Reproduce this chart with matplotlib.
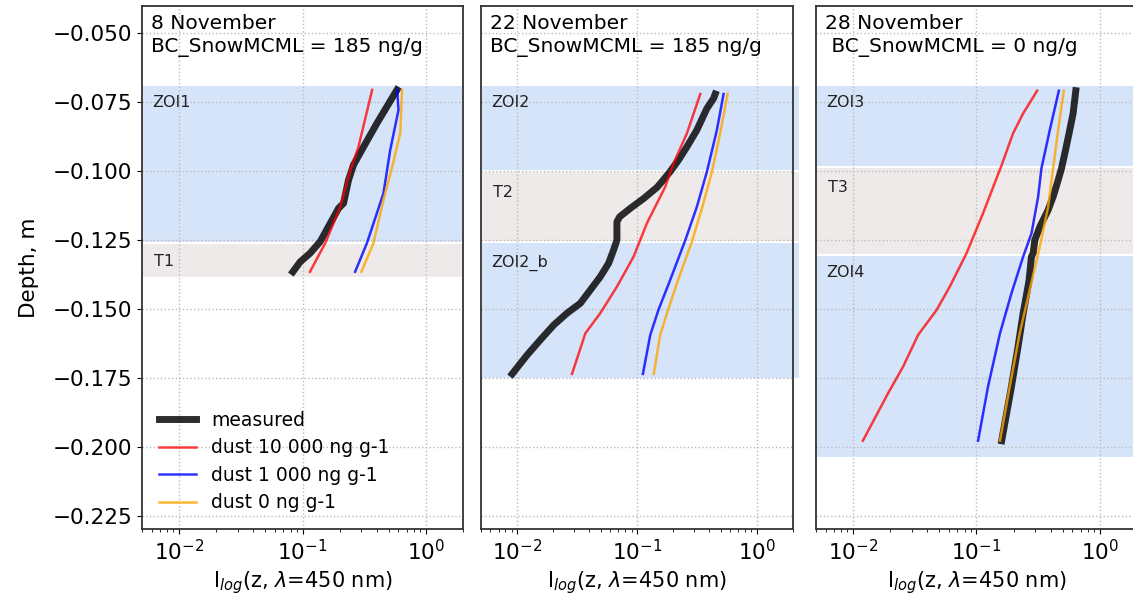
import matplotlib
matplotlib.use("Agg")
import matplotlib.pyplot as plt

# ---- data (intensity, depth in m) ----
titles = ["8 November\nBC_SnowMCML = 185 ng/g",
          "22 November\nBC_SnowMCML = 185 ng/g",
          "28 November\n BC_SnowMCML = 0 ng/g"]

# panel 1
p1_meas_x = [0.583, 0.401, 0.313, 0.259, 0.236, 0.215, 0.196, 0.168, 0.139, 0.115, 0.0958, 0.0836]
p1_meas_z = [-0.0705, -0.0826, -0.0911, -0.0977, -0.1032, -0.1116, -0.1134, -0.1188, -0.1255, -0.1297, -0.1328, -0.1364]
p1_red_x = [0.367, 0.284, 0.244, 0.202, 0.153, 0.115]
p1_red_z = [-0.0705, -0.0912, -0.0996, -0.113, -0.126, -0.1364]
p1_blue_x = [0.586, 0.600, 0.514, 0.453, 0.333, 0.267]
p1_blue_z = [-0.0705, -0.0778, -0.0923, -0.108, -0.126, -0.1364]
p1_or_x = [0.641, 0.620, 0.533, 0.453, 0.376, 0.300]
p1_or_z = [-0.0705, -0.0862, -0.0984, -0.1104, -0.126, -0.1364]

# panel 2
p2_meas_x = [0.449, 0.435, 0.383, 0.316, 0.261, 0.222, 0.189, 0.161, 0.147, 0.114, 0.088, 0.0716,
             0.068, 0.068, 0.0638, 0.058, 0.0494, 0.0408, 0.0337, 0.0261, 0.0202, 0.0156, 0.0121, 0.0091]
p2_meas_z = [-0.0720, -0.0736, -0.0772, -0.0850, -0.0911, -0.0959, -0.1001, -0.1038, -0.1058, -0.1098,
             -0.1134, -0.1165, -0.1183, -0.1249, -0.1285, -0.1333, -0.1382, -0.1430, -0.1478, -0.1514,
             -0.1557, -0.1611, -0.1666, -0.1734]
p2_red_x = [0.337, 0.261, 0.202, 0.172, 0.121, 0.0937, 0.068, 0.0494, 0.0371, 0.0287]
p2_red_z = [-0.0720, -0.0862, -0.0971, -0.1056, -0.1188, -0.1309, -0.1418, -0.1514, -0.1587, -0.1734]
p2_blue_x = [0.527, 0.464, 0.383, 0.316, 0.253, 0.189, 0.151, 0.129, 0.112]
p2_blue_z = [-0.0720, -0.0850, -0.1001, -0.1128, -0.1249, -0.1394, -0.1502, -0.1593, -0.1734]
p2_or_x = [0.569, 0.494, 0.422, 0.348, 0.287, 0.215, 0.178, 0.156, 0.138]
p2_or_z = [-0.0720, -0.0862, -0.1001, -0.1134, -0.1255, -0.1406, -0.1514, -0.1593, -0.1734]

# panel 3
p3_meas_x = [0.638, 0.607, 0.563, 0.520, 0.489, 0.459, 0.418, 0.381, 0.326, 0.297, 0.288, 0.279,
             0.267, 0.239, 0.217, 0.192, 0.160]
p3_meas_z = [-0.0708, -0.0790, -0.0862, -0.0935, -0.0989, -0.1032, -0.1092, -0.1140, -0.1201, -0.1249,
             -0.1297, -0.1309, -0.1394, -0.1514, -0.1636, -0.1780, -0.1976]
p3_red_x = [0.310, 0.239, 0.198, 0.160, 0.113, 0.083, 0.0607, 0.0474, 0.0336, 0.0254, 0.0192, 0.0120]
p3_red_z = [-0.0708, -0.0790, -0.0862, -0.0977, -0.1152, -0.1297, -0.1418, -0.1503, -0.1593, -0.1708,
            -0.1804, -0.1976]
p3_blue_x = [0.465, 0.393, 0.336, 0.316, 0.279, 0.239, 0.192, 0.155, 0.124, 0.103]
p3_blue_z = [-0.0708, -0.0850, -0.0989, -0.1092, -0.1225, -0.1309, -0.1442, -0.1587, -0.1780, -0.1976]
p3_or_x = [0.510, 0.459, 0.418, 0.381, 0.326, 0.270, 0.224, 0.186, 0.155]
p3_or_z = [-0.0708, -0.0850, -0.0989, -0.1128, -0.1273, -0.1430, -0.1587, -0.1780, -0.1976]

# layers: (name, top, bottom, kind)
p1_layers = [("ZOI1", -0.0688, -0.1258, "zoi"), ("T1", -0.1258, -0.1388, "t")]
p2_layers = [("ZOI2", -0.0688, -0.1000, "zoi"), ("T2", -0.1000, -0.1255, "t"),
             ("ZOI2_b", -0.1255, -0.1754, "zoi")]
p3_layers = [("ZOI3", -0.0688, -0.0985, "zoi"), ("T3", -0.0985, -0.1305, "t"),
             ("ZOI4", -0.1305, -0.2039, "zoi")]
label_z = [[-0.0749, -0.1328], [-0.0749, -0.1075, -0.1332], [-0.0749, -0.1060, -0.1368]]

panels = [
    (p1_meas_x, p1_meas_z, p1_red_x, p1_red_z, p1_blue_x, p1_blue_z, p1_or_x, p1_or_z, p1_layers),
    (p2_meas_x, p2_meas_z, p2_red_x, p2_red_z, p2_blue_x, p2_blue_z, p2_or_x, p2_or_z, p2_layers),
    (p3_meas_x, p3_meas_z, p3_red_x, p3_red_z, p3_blue_x, p3_blue_z, p3_or_x, p3_or_z, p3_layers),
]

band_col = {"zoi": "#d6e4fa", "t": "#eeeae9"}
boxes = [(142, 321), (481, 312), (816, 321)]   # left px, width px

plt.rcParams["font.family"] = ["DejaVu Sans"]
fig = plt.figure(figsize=(11.33, 6), dpi=100)

for i, (mx, mz, rx, rz, bx, bz, ox, oz, layers) in enumerate(panels):
    left, w = boxes[i]
    ax = fig.add_axes([left / 1133, 71 / 600, w / 1133, 523 / 600])
    xmax = 1.022 if i == 1 else 1.0
    for (name, top, bot, kind), lz in zip(layers, label_z[i]):
        ax.axhspan(bot, top, xmin=0, xmax=xmax, color=band_col[kind], ec="white",
                   lw=1.5, zorder=0, clip_on=(i != 1))
        ax.text(10 / w if not name.startswith("T") else 12 / w, lz, name, fontsize=11.5,
                transform=ax.get_yaxis_transform(), va="center", ha="left", color="#222222")
    ax.plot(mx, mz, color="black", lw=5, alpha=0.82, label="measured", zorder=3)
    ax.plot(rx, rz, color="red", lw=1.8, alpha=0.75, label="dust 10 000 ng g-1", zorder=4)
    ax.plot(bx, bz, color="blue", lw=1.8, alpha=0.8, label="dust 1 000 ng g-1", zorder=4)
    ax.plot(ox, oz, color="orange", lw=1.8, alpha=0.8, label="dust 0 ng g-1", zorder=4)

    ax.set_xscale("log")
    ax.set_xlim(0.005, 2.0)
    ax.set_ylim(-0.2296, -0.0401)
    ax.set_yticks([-0.050, -0.075, -0.100, -0.125, -0.150, -0.175, -0.200, -0.225])
    ax.grid(True, which="major", ls=":", color="#bbbbbb", lw=1.0)
    ax.set_axisbelow(True)
    for s in ax.spines.values():
        s.set_color("#333333")
        s.set_linewidth(1.3)
    ax.tick_params(labelsize=15.5)
    ax.set_xlabel(r"I$_{log}$(z, $\lambda$=450 nm)", fontsize=15)
    ax.text(0.028, 0.984, titles[i], transform=ax.transAxes, va="top", ha="left",
            fontsize=14.5, linespacing=1.25)
    if i == 0:
        ax.set_yticklabels(["\u22120.050", "\u22120.075", "\u22120.100", "\u22120.125",
                            "\u22120.150", "\u22120.175", "\u22120.200", "\u22120.225"])
        ax.set_ylabel("Depth, m", fontsize=15.5, labelpad=10)
        ax.legend(loc="lower left", frameon=False, fontsize=13.5, handlelength=2.0,
                  bbox_to_anchor=(0.0, 0.0), labelspacing=0.45)
    else:
        ax.tick_params(axis="y", left=False, labelleft=False)

fig.savefig("out.png", dpi=100)
